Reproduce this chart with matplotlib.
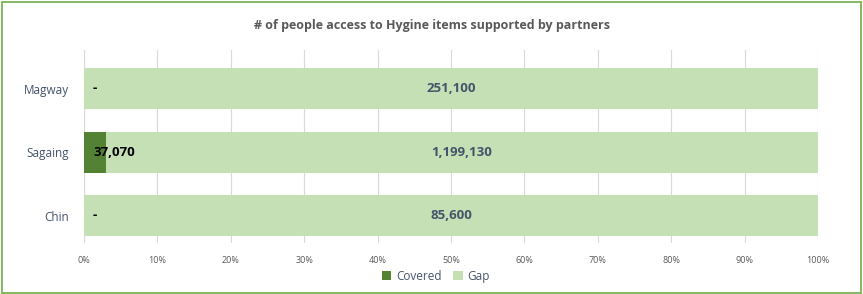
import numpy as np
import matplotlib.pyplot as plt
from matplotlib.patches import Rectangle
from matplotlib.ticker import PercentFormatter

plt.rcParams['font.family'] = ['Open Sans', 'DejaVu Sans']

regions = ['Chin', 'Sagaing', 'Magway']
covered = np.array([0, 37070, 0])
gap = np.array([85600, 1199130, 251100])

total = covered + gap
cov_pct = covered / total
gap_pct = gap / total

fig = plt.figure(figsize=(8.63, 2.94), dpi=100)
ax = fig.add_axes([0.0973, 0.173, 0.8505, 0.657])

y = np.arange(len(regions))
ax.barh(y, cov_pct, height=0.65, color='#548235', label='Covered', zorder=3)
ax.barh(y, gap_pct, left=cov_pct, height=0.65, color='#C5E0B4', label='Gap', zorder=3)

for i in range(len(regions)):
    txt = '-' if covered[i] == 0 else f'{covered[i]:,}'
    ax.annotate(txt, (0, y[i]), xytext=(6.5, 0), textcoords='offset points',
                ha='left', va='center', fontsize=9.5, fontweight='bold', color='black', zorder=4)
    ax.text(cov_pct[i] + gap_pct[i] / 2, y[i], f'{gap[i]:,}', ha='center', va='center',
            fontsize=9.5, fontweight='bold', color='#44546A', zorder=4)

ax.set_xlim(0, 1)
ax.set_ylim(-0.43, 2.61)
ax.set_yticks(y)
ax.set_yticklabels(regions, fontsize=8.5, color='#44546A')
ax.set_xticks(np.linspace(0, 1, 11))
ax.xaxis.set_major_formatter(PercentFormatter(1.0, decimals=0))
ax.tick_params(axis='x', labelsize=6.5, colors='#595959', length=0, pad=9)
ax.tick_params(axis='y', length=0, pad=11)
ax.grid(axis='x', color='#D9D9D9', linewidth=0.8, zorder=0)
for s in ax.spines.values():
    s.set_visible(False)

fig.suptitle('# of people access to Hygine items supported by partners', y=0.935,
             fontsize=9, fontweight='bold', color='#595959')
fig.legend(loc='center', bbox_to_anchor=(0.505, 0.06), ncol=2, frameon=False,
           fontsize=8.5, handlelength=0.8, handleheight=0.8, columnspacing=1.0,
           handletextpad=0.4, labelcolor='#44546A')

fig.patches.append(Rectangle((0.002, 0.004), 0.996, 0.99, transform=fig.transFigure,
                             fill=False, edgecolor='#70AD47', linewidth=1.2))

fig.savefig('out.png', dpi=100)
